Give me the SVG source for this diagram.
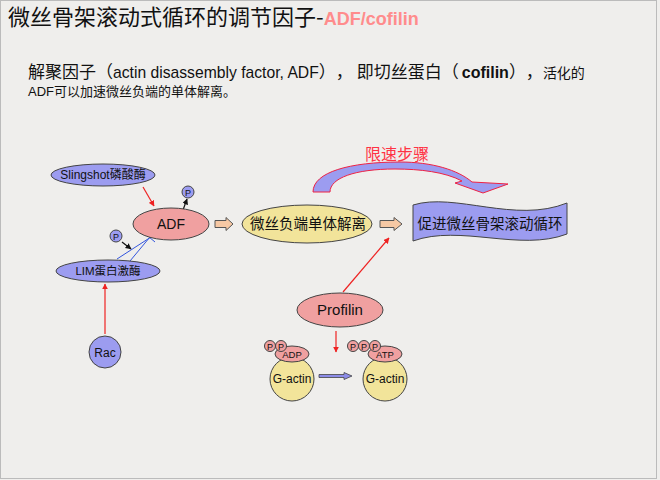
<svg xmlns="http://www.w3.org/2000/svg" width="660" height="480" viewBox="0 0 660 480">
<style>
text{font-family:"Liberation Sans","Noto Sans CJK SC",sans-serif;fill:#111;text-spacing-trim:space-all}
.cjk{font-family:"Noto Sans CJK SC","Liberation Sans",sans-serif}
.blue{fill:#9c9cf0;stroke:#444;stroke-width:1}
.pink{fill:#f0a0a0;stroke:#444;stroke-width:1}
.yel{fill:#f2e49a;stroke:#444;stroke-width:1}
.peach{fill:#f6c8a4;stroke:#555;stroke-width:1}
.red{stroke:#ee2222;stroke-width:1.2;fill:none}
.blk{stroke:#111;stroke-width:1.2;fill:none}
.bl{stroke:#3355dd;stroke-width:1;fill:none}
</style>
<defs>
<marker id="ar" viewBox="0 0 10 10" refX="9" refY="5" markerWidth="5" markerHeight="5" orient="auto"><path d="M0,0 L10,5 L0,10 Z" fill="#ee2222"/></marker>
<marker id="ab" viewBox="0 0 10 10" refX="9" refY="5" markerWidth="5" markerHeight="5" orient="auto"><path d="M0,0 L10,5 L0,10 Z" fill="#111"/></marker>
</defs>
<rect x="0" y="0" width="660" height="480" fill="#efeeec"/>
<rect x="0.5" y="0.5" width="656" height="478" fill="none" stroke="#bbb"/>
<text x="8" y="25" font-size="22" class="cjk">微丝骨架滚动式循环的调节因子-<tspan font-family="Liberation Sans,sans-serif" font-size="18" font-weight="bold" style="fill:#ff8c8c">ADF/cofilin</tspan></text>
<text x="28" y="78" font-size="17"><tspan class="cjk" font-family="Noto Sans CJK SC,sans-serif">解聚因子（</tspan><tspan font-size="15.7">actin disassembly factor, ADF</tspan><tspan font-family="Noto Sans CJK SC,sans-serif">），</tspan><tspan dx="4" font-family="Noto Sans CJK SC,sans-serif">即切丝蛋白（</tspan><tspan dx="3" font-size="16" font-weight="bold">cofilin</tspan><tspan font-family="Noto Sans CJK SC,sans-serif">），</tspan><tspan font-family="Noto Sans CJK SC,sans-serif" font-size="14">活化的</tspan></text>
<text x="28" y="96" font-size="13">ADF<tspan font-family="Noto Sans CJK SC,sans-serif" font-size="13">可以加速微丝负端的单体解离。</tspan></text>

<g id="connectors">
<line x1="143" y1="187" x2="154" y2="206" class="red" marker-end="url(#ar)"/>
<line x1="183" y1="210" x2="187" y2="199" class="blk" marker-end="url(#ab)"/>
<line x1="122" y1="242" x2="131" y2="249" class="blk" marker-end="url(#ab)"/>
<line x1="117" y1="259" x2="151" y2="237" class="bl"/>
<line x1="125" y1="267" x2="150" y2="237" class="bl"/>
<line x1="149" y1="237" x2="155" y2="242" class="bl"/>
<line x1="105" y1="334" x2="105" y2="284" class="red" stroke-width="1.5" marker-end="url(#ar)"/>
<path d="M215,220.5 H226 V217.5 L233,224 L226,230.5 V227.5 H215 Z" class="peach"/>
<path d="M380,220.5 H394 V217.5 L402,224 L394,230.5 V227.5 H380 Z" class="peach"/>
<line x1="343" y1="292" x2="389" y2="238" class="red" marker-end="url(#ar)"/>
<line x1="336" y1="331" x2="336" y2="352" class="red" marker-end="url(#ar)"/>
<path d="M319,374.5 H344 V372.5 L352,376 L344,379.5 V377.5 H319 Z" fill="#8c8ce8" stroke="#444" stroke-width="0.8"/>
<path d="M313,192 C313,172 350,162 400,162 C432,162 458,170 472,182 L508,184 L483,193 L455,183 L462,181 C445,172 420,169 395,169 C355,169 330,178 330,192 Z" fill="#9c9cf0" stroke="#ee2244" stroke-width="1"/>
<text x="397" y="160" font-size="16" text-anchor="middle" class="cjk" style="fill:#ff3344">限速步骤</text>
</g>

<g id="slingshot"><ellipse cx="103" cy="175" rx="52" ry="11" class="blue"/><text x="103" y="179" font-size="12" text-anchor="middle">Slingshot磷酸酶</text></g>
<g id="adf"><ellipse cx="171" cy="224" rx="38" ry="16" class="pink"/><text x="171" y="229" font-size="14" text-anchor="middle">ADF</text></g>
<g id="p1"><circle cx="188" cy="192" r="6" class="blue"/><text x="188" y="195.5" font-size="9" text-anchor="middle">P</text></g>
<g id="p2"><circle cx="116" cy="236" r="6" class="blue"/><text x="116" y="239.5" font-size="9" text-anchor="middle">P</text></g>
<g id="lim"><ellipse cx="108" cy="271" rx="52" ry="11" class="blue"/><text x="108" y="275" font-size="11.5" text-anchor="middle">LIM蛋白激酶</text></g>
<g id="rac"><circle cx="105" cy="352" r="16" class="blue"/><text x="105" y="356.5" font-size="12" text-anchor="middle">Rac</text></g>
<g id="dissoc"><ellipse cx="307" cy="224" rx="65" ry="19" class="yel"/><text x="308" y="229" font-size="14.5" text-anchor="middle" class="cjk">微丝负端单体解离</text></g>
<g id="promote"><path d="M413,205 C455,192 515,224 567,203 L567,234 C520,252 460,224 413,241 Z" class="blue"/><text x="490" y="229" font-size="14.5" text-anchor="middle" class="cjk">促进微丝骨架滚动循环</text></g>
<g id="profilin"><ellipse cx="340" cy="310" rx="43" ry="17" class="pink"/><text x="340" y="315" font-size="15" text-anchor="middle">Profilin</text></g>
<g id="gactin-adp">
<circle cx="292" cy="379" r="22" class="yel"/><text x="292" y="383" font-size="12" text-anchor="middle">G-actin</text>
<ellipse cx="292" cy="354" rx="17" ry="8" class="pink"/><text x="292" y="357.5" font-size="9.5" text-anchor="middle">ADP</text>
<circle cx="270" cy="346" r="5.5" class="pink"/><text x="270" y="349.5" font-size="9" text-anchor="middle">P</text>
<circle cx="281" cy="346" r="5.5" class="pink"/><text x="281" y="349.5" font-size="9" text-anchor="middle">P</text>
</g>
<g id="gactin-atp">
<circle cx="385" cy="379" r="22" class="yel"/><text x="385" y="383" font-size="12" text-anchor="middle">G-actin</text>
<ellipse cx="385" cy="354" rx="17" ry="8" class="pink"/><text x="385" y="357.5" font-size="9.5" text-anchor="middle">ATP</text>
<circle cx="353" cy="346" r="5.5" class="pink"/><text x="353" y="349.5" font-size="9" text-anchor="middle">P</text>
<circle cx="364" cy="346" r="5.5" class="pink"/><text x="364" y="349.5" font-size="9" text-anchor="middle">P</text>
<circle cx="375" cy="346" r="5.5" class="pink"/><text x="375" y="349.5" font-size="9" text-anchor="middle">P</text>
</g>
</svg>
